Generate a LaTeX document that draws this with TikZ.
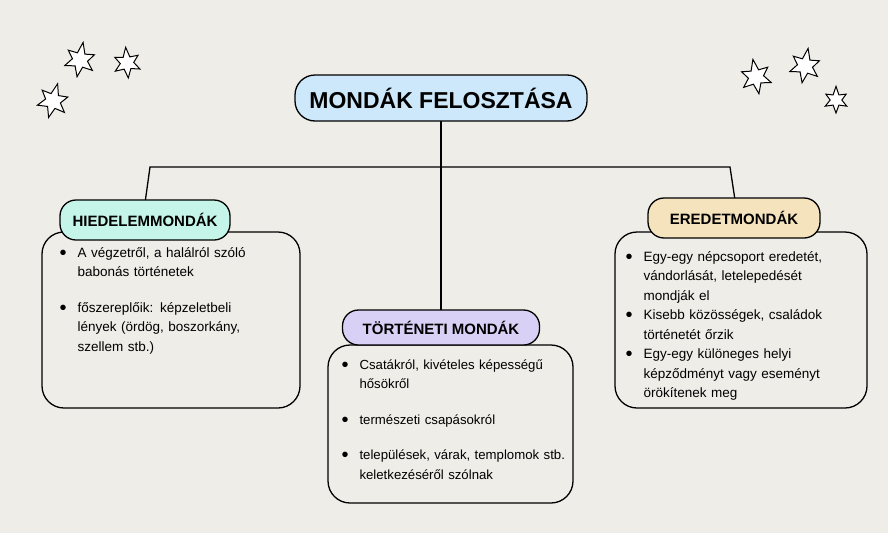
\documentclass[tikz,border=0pt]{standalone}
\usepackage{fontspec}
\setmainfont{Liberation Sans}
\usetikzlibrary{calc}
\definecolor{bg}{HTML}{EEEDE8}
\definecolor{cblue}{HTML}{CDE8FB}
\definecolor{cmint}{HTML}{C5F5E8}
\definecolor{clav}{HTML}{D9D0F5}
\definecolor{cpeach}{HTML}{F5E3BD}
\tikzset{
 lbl/.style={draw=black,line width=1.3pt,rounded corners=16pt,font=\bfseries\fontsize{15}{17}\selectfont,inner sep=0pt,minimum height=38pt},
 card/.style={draw=black,line width=1.3pt,rounded corners=22pt},
 txt/.style={font=\fontsize{13.5}{19.5}\selectfont,align=left,anchor=north west,text width=#1},
 ln/.style={line width=1.3pt},
 star/.style={draw=black,line width=1pt,fill=white}
}
\newcommand{\bul}{\makebox[18pt][l]{\raisebox{-2pt}{\fontsize{20}{18}\selectfont•}}}
\newcommand{\ind}{\hspace*{18pt}}
\newcommand{\sixstar}[4]{%
 \draw[star] ($(#1,#2)+(#3+90:#4)$)
 -- ($(#1,#2)+(#3+120:#4*0.45)$) -- ($(#1,#2)+(#3+150:#4*0.95)$)
 -- ($(#1,#2)+(#3+180:#4*0.45)$) -- ($(#1,#2)+(#3+210:#4*0.9)$)
 -- ($(#1,#2)+(#3+240:#4*0.45)$) -- ($(#1,#2)+(#3+270:#4*1.05)$)
 -- ($(#1,#2)+(#3+300:#4*0.45)$) -- ($(#1,#2)+(#3+330:#4*0.9)$)
 -- ($(#1,#2)+(#3+0:#4*0.45)$) -- ($(#1,#2)+(#3+30:#4*0.95)$)
 -- ($(#1,#2)+(#3+60:#4*0.45)$) -- cycle;}
\begin{document}
\begin{tikzpicture}[x=1pt,y=-1pt]
\fill[bg] (0,0) rectangle (888,533);
\useasboundingbox (0,0) rectangle (888,533);
% stars
\sixstar{80}{60}{10}{17}
\sixstar{127}{63}{-5}{15}
\sixstar{53}{101}{15}{17}
\sixstar{756}{77}{-10}{17}
\sixstar{805}{66}{10}{17}
\sixstar{836}{100}{0}{13}
% connectors
\coordinate (h1) at (150,167);
\coordinate (h2) at (730,167);
\draw[ln] (441,121) -- (441,311);
\draw[ln] (145,203) -- (h1) -- (h2) -- (735,200);
% cards
\draw[card,fill=bg] (42,232) rectangle (300,408);
\draw[card,fill=bg] (328,345) rectangle (573,503);
\draw[card,fill=bg] (615,232) rectangle (867,408);
% labels
\node[lbl,fill=cblue,rounded corners=20pt,minimum height=46pt,minimum width=292pt,font=\bfseries\fontsize{23}{26}\selectfont] (title) at (441,98) {MONDÁK FELOSZTÁSA};
\node[lbl,fill=cmint,minimum width=170pt,minimum height=40pt] (hied) at (145,220) {HIEDELEMMONDÁK};
\node[lbl,fill=clav,minimum width=197pt,minimum height=35pt] (tort) at (441,327.5) {TÖRTÉNETI MONDÁK};
\node[lbl,fill=cpeach,minimum width=172pt,minimum height=40pt] (ered) at (734,218) {EREDETMONDÁK};
% texts
\node[txt=240pt] (t1) at (56,244) {\bul A végzetről, a halálról szóló\\\ind babonás történetek\\[16pt]
\bul főszereplőik: képzeletbeli\\\ind lények (ördög, boszorkány,\\\ind szellem stb.)};
\node[txt=250pt,font=\fontsize{13.2}{19.5}\selectfont] (t2) at (338,356) {\bul Csatákról, kivételes képességű\\\ind hősökről\\[16pt]
\bul természeti csapásokról\\[16pt]
\bul települések, várak, templomok stb.\\\ind keletkezéséről szólnak};
\node[txt=250pt] (t3) at (622,248) {\bul Egy-egy népcsoport eredetét,\\\ind vándorlását, letelepedését\\\ind mondják el\\
\bul Kisebb közösségek, családok\\\ind történetét őrzik\\
\bul Egy-egy különeges helyi\\\ind képződményt vagy eseményt\\\ind örökítenek meg};
\end{tikzpicture}
\end{document}
